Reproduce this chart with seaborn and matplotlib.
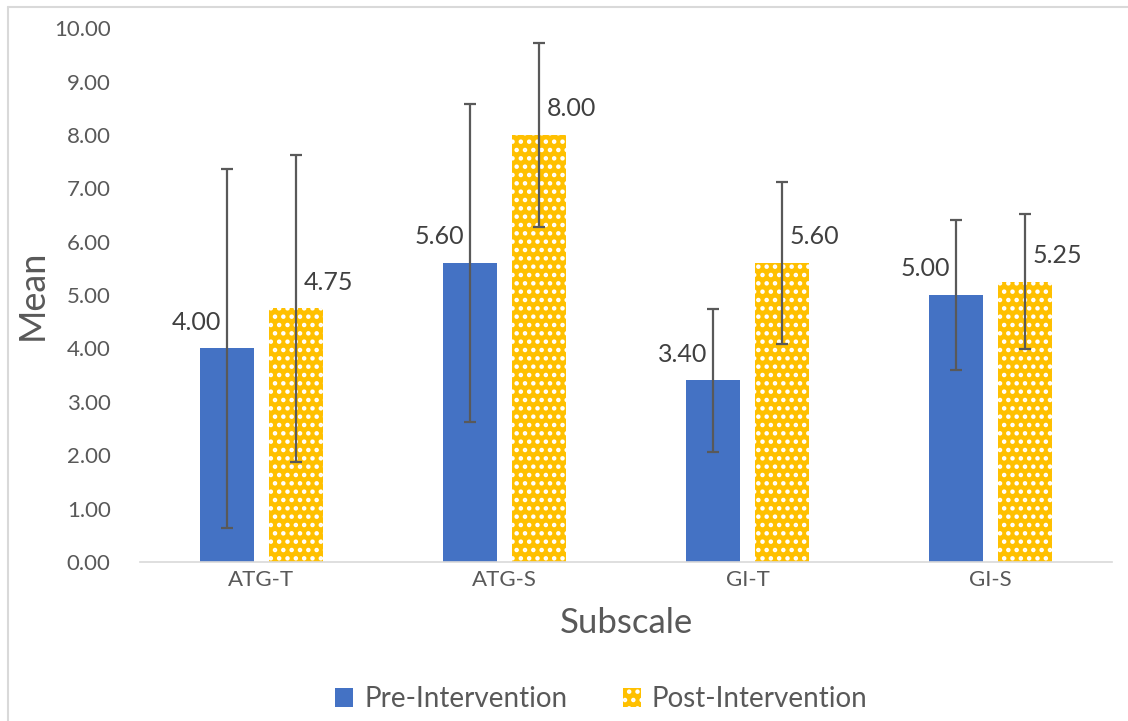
import numpy as np
import pandas as pd
import matplotlib
matplotlib.use('Agg')
import matplotlib.pyplot as plt
import seaborn as sns
from matplotlib.patches import Patch
from matplotlib.lines import Line2D

sns.set_theme(style='white')
plt.rcParams['font.family'] = ['Lato', 'DejaVu Sans']
plt.rcParams['hatch.color'] = 'white'
plt.rcParams['hatch.linewidth'] = 2.0

# data
subscales = ['ATG-T', 'ATG-S', 'GI-T', 'GI-S']
groups = ['Pre-Intervention', 'Post-Intervention']
pre_mean = [4.00, 5.60, 3.40, 5.00]
post_mean = [4.75, 8.00, 5.60, 5.25]
pre_sd = [3.36, 2.97, 1.34, 1.41]
post_sd = [2.87, 1.73, 1.51, 1.26]

GREY = '#595959'
colors = {'Pre-Intervention': '#4472C4', 'Post-Intervention': '#FFC000'}

df = pd.DataFrame({
    'Subscale': subscales * 2,
    'Group': [groups[0]] * 4 + [groups[1]] * 4,
    'Mean': pre_mean + post_mean,
    'SD': pre_sd + post_sd,
})

fig = plt.figure(figsize=(11.28, 7.21), dpi=100)
ax = fig.add_axes([0.124, 0.2205, 0.862, 0.7405])

sns.barplot(data=df, x='Subscale', y='Mean', hue='Group', order=subscales,
            hue_order=groups, palette=colors, width=0.57, gap=0.22,
            errorbar=None, saturation=1, ax=ax, legend=False)

# dotted fill on the post bars, error bars and value labels
for cont, g in zip(ax.containers, groups):
    sub = df[df['Group'] == g].set_index('Subscale').loc[subscales]
    for bar, m, sd in zip(cont, sub['Mean'], sub['SD']):
        bar.set_linewidth(0)
        if g == groups[1]:
            bar.set_hatch('..')
            bar.set_edgecolor('white')
        xc = bar.get_x() + bar.get_width() / 2
        ax.errorbar(xc, m, yerr=sd, color=GREY, lw=1.6, capsize=4.5,
                    capthick=1.6, zorder=5)
        dx = -22 if g == groups[0] else 23
        ax.annotate(f'{m:.2f}', (xc, m), xytext=(dx, 19), textcoords='offset points',
                    ha='center', va='center', fontsize=18, color='#404040')

ax.set_ylim(0, 10)
ax.set_yticks(np.arange(0, 10.01, 1))
ax.set_yticklabels([f'{v:.2f}' for v in np.arange(0, 10.01, 1)])
ax.set_xlim(-0.5, 3.5)
ax.tick_params(axis='both', length=0, labelsize=16, colors=GREY, pad=6)
ax.tick_params(axis='y', pad=21)
for s in ['top', 'right', 'left']:
    ax.spines[s].set_visible(False)
ax.spines['bottom'].set_color('#D9D9D9')
ax.spines['bottom'].set_linewidth(1.2)

ax.set_xlabel('Subscale', fontsize=25, color=GREY, labelpad=12)
ax.set_ylabel('Mean', fontsize=26, color=GREY, labelpad=4)

handles = [Patch(facecolor=colors[groups[0]], linewidth=0),
           Patch(facecolor=colors[groups[1]], edgecolor='white', hatch='..', linewidth=0)]
leg = fig.legend(handles, groups, loc='center', bbox_to_anchor=(0.533, 0.03), ncol=2,
                 frameon=False, fontsize=20, handlelength=0.65, handleheight=0.65,
                 handletextpad=0.4, columnspacing=2.0)
for t in leg.get_texts():
    t.set_color(GREY)

# chart area border (left and top only visible in the crop)
fig.add_artist(Line2D([0.007, 0.007], [0.0, 0.99], color='#D9D9D9', lw=1.5))
fig.add_artist(Line2D([0.007, 1.0], [0.99, 0.99], color='#D9D9D9', lw=1.5))

fig.savefig('out.png', dpi=100)
